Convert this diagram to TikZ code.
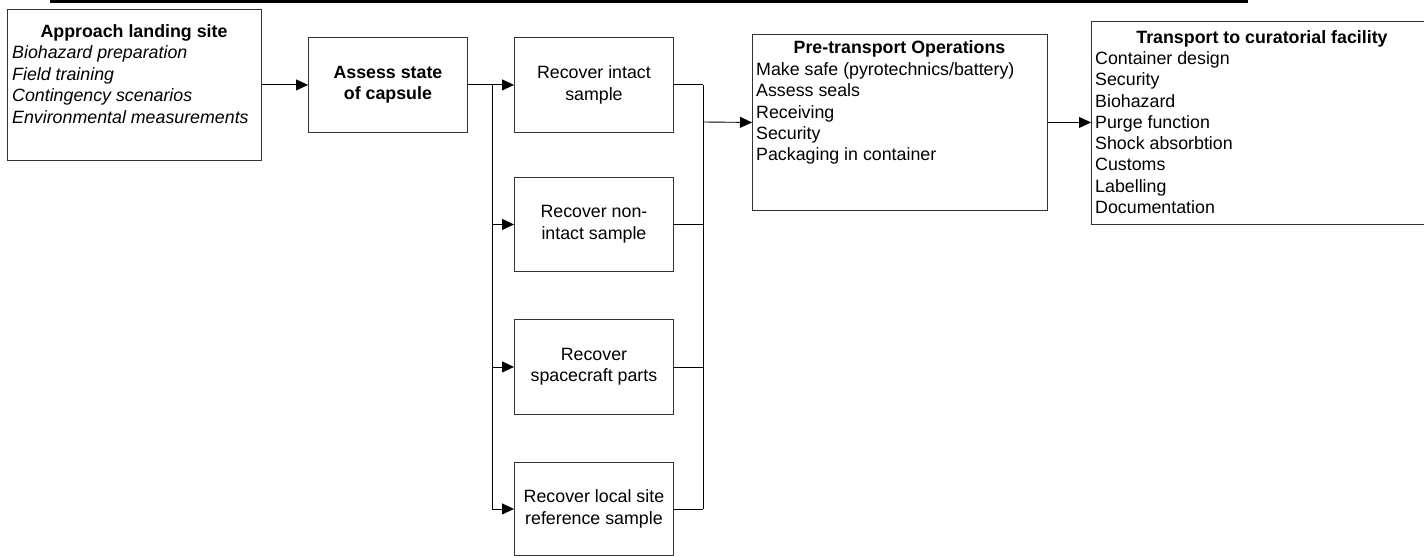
\documentclass[tikz,border=0pt]{standalone}
\usepackage{fontspec}
\setmainfont{Liberation Sans}
\usetikzlibrary{arrows.meta}
\newcommand\diagfont{\fontsize{17.8}{21.5}\selectfont}
\tikzset{
  stage/.style={draw=black!80, line width=0.9pt, anchor=north west, inner sep=0pt, align=center, font=\diagfont},
  flow/.style={line width=0.9pt, -{Triangle[length=12pt,width=11pt]}},
  link/.style={line width=0.9pt},
  item/.style={anchor=base west, inner sep=0pt, font=\diagfont},
  head/.style={anchor=base, inner sep=0pt, font=\diagfont\bfseries},
}
\begin{document}
\begin{tikzpicture}[x=1pt, y=-1pt]
  \clip (0,0) rectangle (1424,556);
  % rule across the top
  \draw[line width=3pt] (50,1.5) -- (1248,1.5);
  % boxes
  \node[stage, minimum width=254, minimum height=151] (land) at (7,9) {};
  \node[stage, minimum width=159, minimum height=95, font=\diagfont\bfseries] (assess) at (308,37) {Assess state\\of capsule};
  \node[stage, minimum width=159, minimum height=95] (intact) at (514,37) {Recover intact\\sample};
  \node[stage, minimum width=159, minimum height=94] (nonintact) at (514,177) {Recover non-\\intact sample};
  \node[stage, minimum width=159, minimum height=95] (parts) at (514,319) {Recover\\spacecraft parts};
  \node[stage, minimum width=159, minimum height=93] (local) at (514,462) {Recover local site\\reference sample};
  \node[stage, minimum width=295, minimum height=176] (pre) at (752,34) {};
  \node[stage, minimum width=341, minimum height=203] (trans) at (1091,21) {};
  % texts in the boxes with lists
  \node[head] (land-head) at (134,37.5) {Approach landing site};
  \foreach \t [count=\i] in {Biohazard preparation, Field training, Contingency scenarios, Environmental measurements}
    \node[item, font=\diagfont\itshape] (land-\i) at (12, 36.9+21.6*\i) {\t};
  \node[head] (pre-head) at (899.5,53.5) {Pre-transport Operations};
  \foreach \t [count=\i] in {Make safe (pyrotechnics/battery), Assess seals, Receiving, Security, Packaging in container}
    \node[item] (pre-\i) at (756, 54.2+21.3*\i) {\t};
  \node[head] (trans-head) at (1262,43.5) {Transport to curatorial facility};
  \foreach \t [count=\i] in {Container design, Security, Biohazard, Purge function, Shock absorbtion, Customs, Labelling, Documentation}
    \node[item] (trans-\i) at (1095, 43.2+21.3*\i) {\t};
  % connectors
  \draw[flow] (land.east) -- (land.east -| assess.west);
  \coordinate (split) at ([xshift=25]assess.east);
  \draw[link] (assess.east) -- (split);
  \foreach \b in {intact,nonintact,parts,local}
    \draw[flow] (split) |- (\b.west);
  \coordinate (join) at (703,122);
  \foreach \b in {intact,nonintact,parts,local}
    \draw[link] (\b.east) -- (\b.east -| join);
  \draw[link] (intact.east -| join) -- (local.east -| join);
  \draw[flow] (join) -- (pre.west);
  \draw[flow] (pre.east) -- (pre.east -| trans.west);
\end{tikzpicture}
\end{document}
